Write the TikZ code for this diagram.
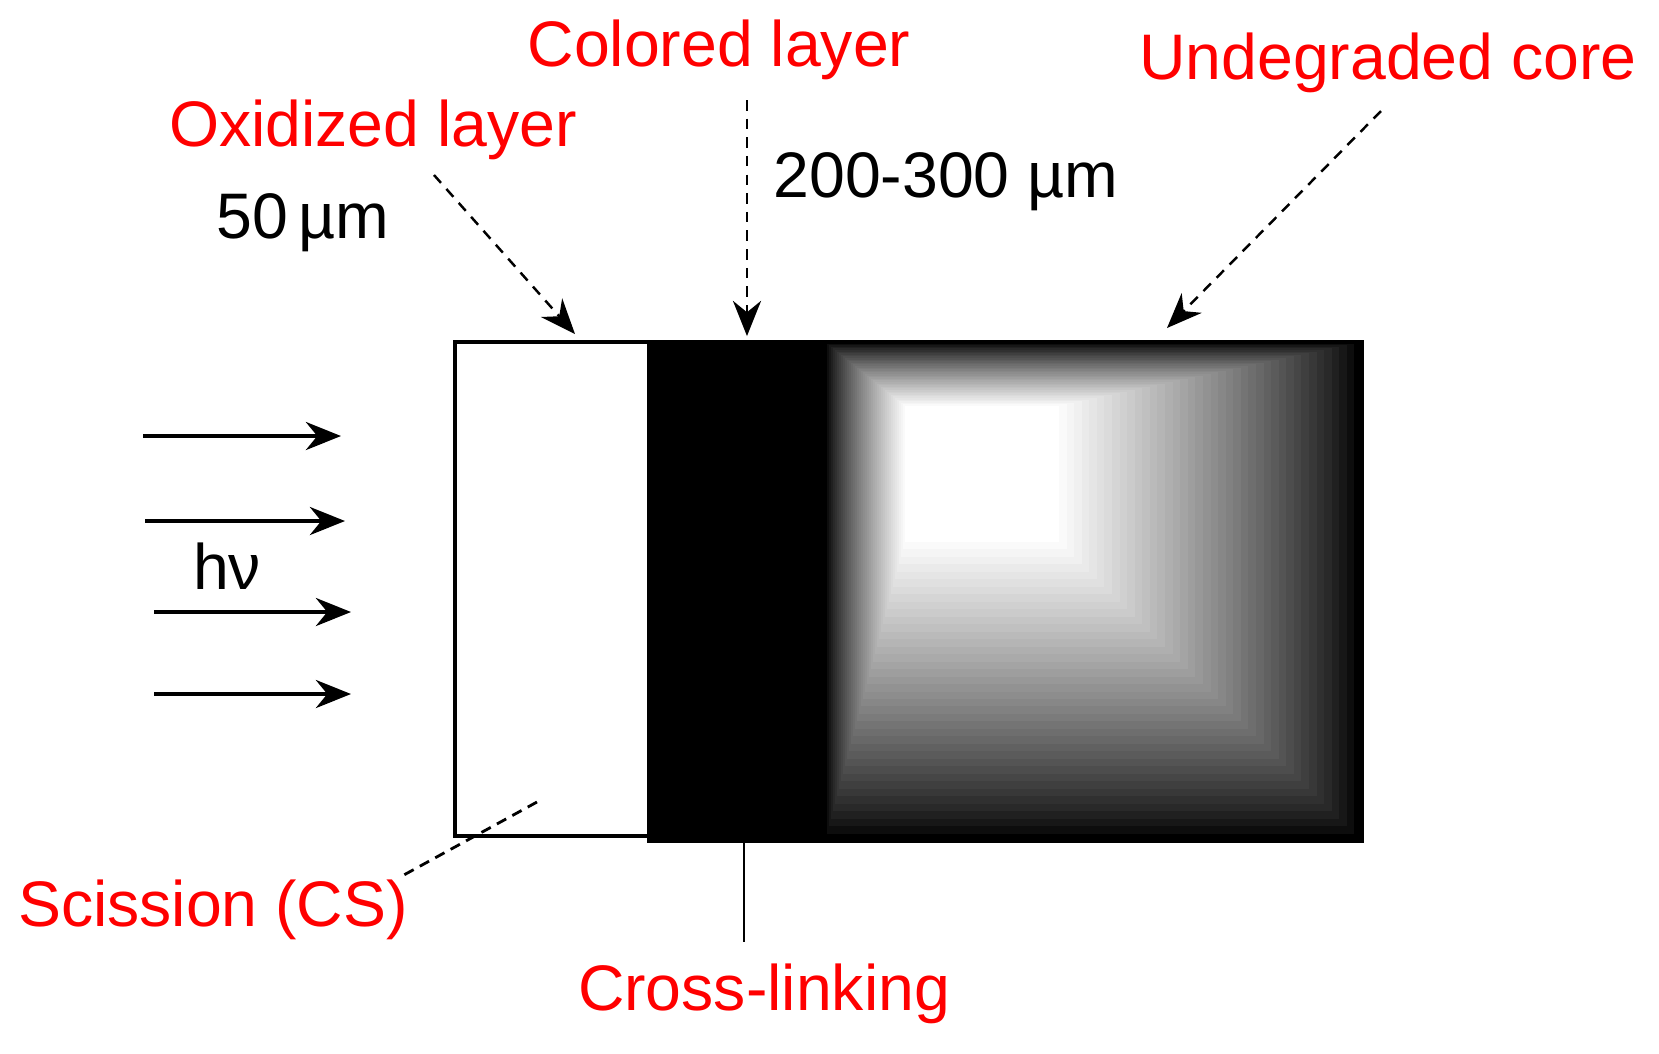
\documentclass[tikz,border=0pt]{standalone}
\usepackage{fontspec}
\setmainfont{Liberation Sans}
\usetikzlibrary{arrows.meta}
\tikzset{>={Stealth[width=8pt,length=10pt]}}
\definecolor{labelred}{HTML}{FF0000}
\tikzset{
  redlabel/.style={text=labelred, anchor=base, inner sep=0pt},
  blacklabel/.style={anchor=base, inner sep=0pt},
  pointer/.style={->, dash pattern=on 3pt off 2.3pt, line width=0.7pt},
  ray/.style={->, line width=1pt},
  frame/.style={line width=0.9pt},
}

\begin{document}
\begin{tikzpicture}[x=0.01cm, y=-0.01cm]
  \useasboundingbox (0,0) rectangle (1659,1053);
  \fontsize{18.3}{22}\selectfont

  %% sample: colored layer + core
  \fill (649,342) rectangle (1362,841);
  \foreach \i in {0,...,40}{
    \pgfmathsetmacro\t{\i/40}
    \pgfmathsetmacro\g{100*(\t^0.8)}
    \fill[white!\g!black] (825+80*\t, 342+64*\t) rectangle (1362-303*\t, 841-299*\t);
  }
  \draw[frame, fill=white] (455,342) rectangle (649,836);
  \draw[frame] (649,342) rectangle (1362,841);

  %% labels
  \node[redlabel] (ox) at (373,146) {Oxidized layer};
  \node[redlabel] (col) at (719,66) {Colored layer};
  \node[redlabel] (core) at (1388,79) {Undegraded core};
  \node[redlabel] (sci) at (213,926) {Scission (CS)};
  \node[redlabel] (cross) at (764,1010) {Cross-linking};
  \node[blacklabel] (thin) at (303,238) {50\,µm};
  \node[blacklabel] (thick) at (946,197) {200-300 µm};
  \node[blacklabel] (hv) at (227,589) {hν};

  %% pointers
  \coordinate (ox-a) at (434,175);
  \coordinate (ox-b) at (575,334);
  \coordinate (col-a) at (747,100);
  \coordinate (col-b) at (747,336);
  \coordinate (core-a) at (1381,111);
  \coordinate (core-b) at (1167,328);
  \coordinate (sci-a) at (537,802);
  \coordinate (sci-b) at (402,876);
  \coordinate (cross-a) at (744,841);
  \coordinate (cross-b) at (744,942);
  \draw[pointer] (ox-a) -- (ox-b);
  \draw[pointer] (col-a) -- (col-b);
  \draw[pointer] (core-a) -- (core-b);
  \draw[densely dashed, line width=0.8pt] (sci-a) -- (sci-b);
  \draw[line width=0.8pt] (cross-a) -- (cross-b);

  %% light
  \foreach \n/\xa/\xb/\y in {1/143/341/436, 2/145/345/521, 3/154/351/612, 4/154/351/694}{
    \coordinate (ray\n-a) at (\xa,\y);
    \coordinate (ray\n-b) at (\xb,\y);
    \draw[ray] (ray\n-a) -- (ray\n-b);
  }

\end{tikzpicture}
\end{document}
